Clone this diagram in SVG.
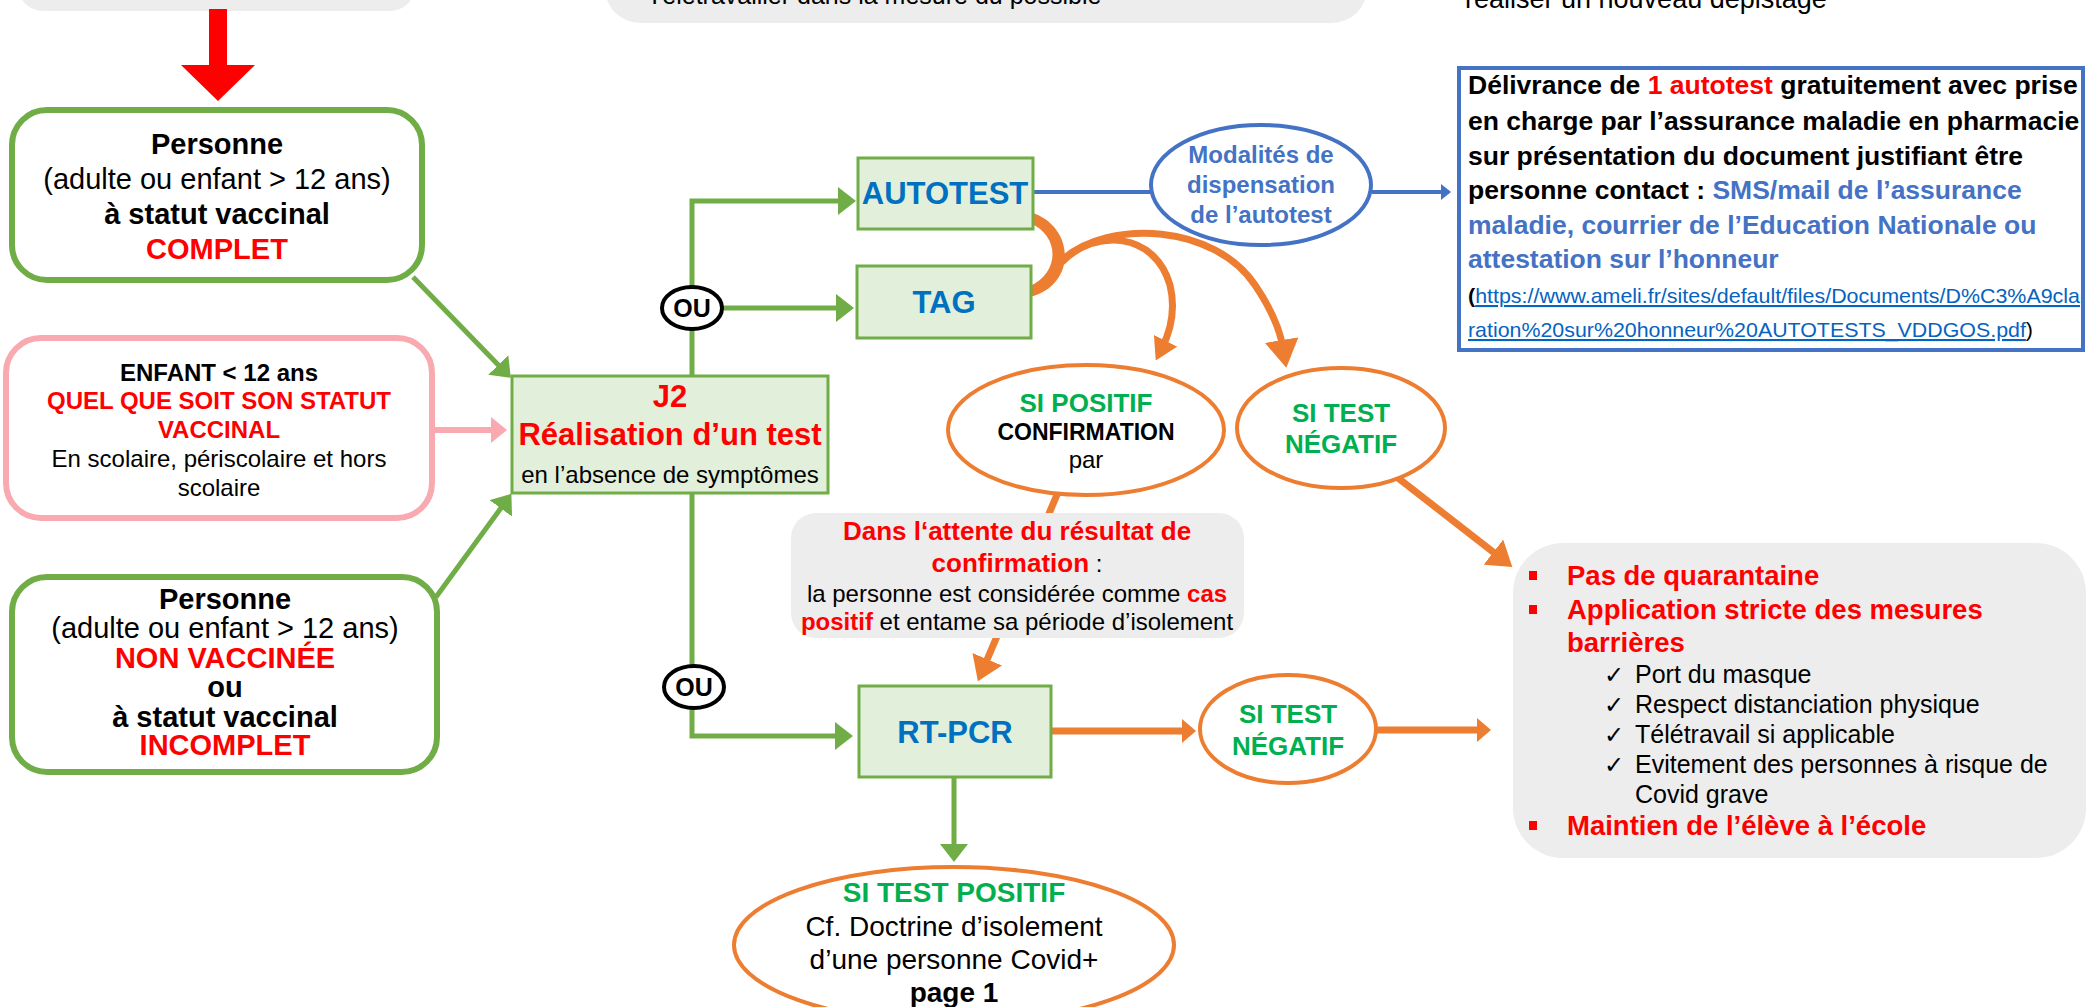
<svg xmlns="http://www.w3.org/2000/svg" width="2086" height="1007" viewBox="0 0 2086 1007">
<style>
text{font-family:"Liberation Sans",Arial,sans-serif;fill:#000}
.b{font-weight:bold}
.red{fill:#FF0000}
.grn{fill:#00B050}
.blu{fill:#0070C0}
.lb{fill:#4472C4}
.c{text-anchor:middle}
.ck{font-family:"DejaVu Sans",sans-serif;font-size:24px}
.gbox{fill:#E2EFDA;stroke:#70AD47;stroke-width:3}
.rbox{fill:#fff;stroke:#70AD47;stroke-width:6}
.oel{fill:#fff;stroke:#ED7D31;stroke-width:4}
.ou{fill:#fff;stroke:#000;stroke-width:4}
.grey{fill:#EDEDED}
.gl{fill:none;stroke:#70AD47;stroke-width:5}
.ol{fill:none;stroke:#ED7D31;stroke-width:7}
.bl{fill:none;stroke:#4472C4;stroke-width:4}
.lnk{fill:#0563C1;text-decoration:underline}
</style>
<defs>
<marker id="mG" markerUnits="userSpaceOnUse" markerWidth="18" markerHeight="28" refX="14" refY="14" orient="auto"><path d="M0,0 L18,14 L0,28 Z" fill="#70AD47"/></marker>
<marker id="mP" markerUnits="userSpaceOnUse" markerWidth="16" markerHeight="26" refX="12" refY="13" orient="auto"><path d="M0,0 L16,13 L0,26 Z" fill="#F9A9B0"/></marker>
<marker id="mOs" markerUnits="userSpaceOnUse" markerWidth="14" markerHeight="24" refX="10" refY="12" orient="auto"><path d="M0,0 L14,12 L0,24 Z" fill="#ED7D31"/></marker>
<marker id="mOb" markerUnits="userSpaceOnUse" markerWidth="24" markerHeight="32" refX="16" refY="16" orient="auto"><path d="M0,0 L24,16 L0,32 Z" fill="#ED7D31"/></marker>
<marker id="mO1" markerUnits="userSpaceOnUse" markerWidth="22" markerHeight="26" refX="8" refY="13" orient="auto"><path d="M0,0 L22,13 L0,26 Z" fill="#ED7D31"/></marker>
<marker id="mO2" markerUnits="userSpaceOnUse" markerWidth="28" markerHeight="34" refX="8" refY="17" orient="auto"><path d="M0,0 L28,17 L0,34 Z" fill="#ED7D31"/></marker>
<marker id="mB" markerUnits="userSpaceOnUse" markerWidth="10" markerHeight="16" refX="8" refY="8" orient="auto"><path d="M0,0 L10,8 L0,16 Z" fill="#4472C4"/></marker>
</defs>
<rect width="2086" height="1007" fill="#fff"/>

<!-- partially visible top elements -->
<g id="top-left-box"><rect class="grey" x="18" y="-60" width="397" height="71" rx="25"/></g>
<g id="top-mid-box"><rect class="grey" x="605" y="-80" width="762" height="103" rx="35"/>
<text x="647" y="4" font-size="25">Télétravailler dans la mesure du possible</text></g>
<g id="top-right-text"><text x="1465" y="8" font-size="27">réaliser un nouveau dépistage</text></g>

<g id="connectors">
<path d="M209,9 L227,9 L227,65 L255,65 L218,101 L181,65 L209,65 Z" fill="#FF0000"/>
<path class="gl" d="M413,277 L508,375" marker-end="url(#mG)"/>
<path d="M432,430 L503,430" fill="none" stroke="#F9A9B0" stroke-width="6" marker-end="url(#mP)"/>
<path class="gl" d="M436,597 L509,497" marker-end="url(#mG)"/>
<path class="gl" d="M692,376 V201 H852" marker-end="url(#mG)"/>
<path class="gl" d="M722,308 H850" marker-end="url(#mG)"/>
<path class="gl" d="M692,493 V736 H849" marker-end="url(#mG)"/>
<path class="gl" d="M954,777 V858" marker-end="url(#mG)"/>
<path class="ol" d="M1051,731 H1192" marker-end="url(#mOs)"/>
<path class="ol" d="M1376,730 H1487" marker-end="url(#mOs)"/>
<path class="ol" d="M1398,478 L1506,562" marker-end="url(#mOb)"/>
<path class="ol" stroke-width="9" d="M1059,490 L981,674" marker-end="url(#mOb)"/>
<path d="M1030,212 C1075,225 1078,285 1030,297 L1030,286 C1060,272 1060,236 1030,223 Z" fill="#ED7D31"/>
<path class="ol" stroke-width="4" d="M1062,262 C1095,228 1155,232 1170,285 C1176,310 1170,332 1162,348" marker-end="url(#mO1)"/>
<path class="ol" stroke-width="4.5" d="M1062,260 C1110,218 1215,225 1255,285 C1272,310 1280,330 1283,348" marker-end="url(#mO2)"/>
<path class="bl" d="M1033,192 H1151"/>
<path class="bl" d="M1372,192 H1449" marker-end="url(#mB)"/>
</g>

<g id="node-complet">
<rect class="rbox" x="12" y="110" width="410" height="170" rx="35"/>
<text class="c b" x="217" y="154" font-size="29">Personne</text>
<text class="c" x="217" y="189" font-size="29">(adulte ou enfant &gt; 12 ans)</text>
<text class="c b" x="217" y="224" font-size="29">à statut vaccinal</text>
<text class="c b red" x="217" y="259" font-size="29">COMPLET</text>
</g>

<g id="node-enfant">
<rect x="6" y="338" width="426" height="180" rx="35" fill="#fff" stroke="#F9A9B0" stroke-width="6"/>
<text class="c b" x="219" y="381" font-size="24">ENFANT &lt; 12 ans</text>
<text class="c b red" x="219" y="409" font-size="24">QUEL QUE SOIT SON STATUT</text>
<text class="c b red" x="219" y="438" font-size="24">VACCINAL</text>
<text class="c" x="219" y="467" font-size="24">En scolaire, périscolaire et hors</text>
<text class="c" x="219" y="496" font-size="24">scolaire</text>
</g>

<g id="node-nonvaccinee">
<rect class="rbox" x="12" y="577" width="425" height="195" rx="35"/>
<text class="c b" x="225" y="609" font-size="29">Personne</text>
<text class="c" x="225" y="638" font-size="29">(adulte ou enfant &gt; 12 ans)</text>
<text class="c b red" x="225" y="668" font-size="29">NON VACCINÉE</text>
<text class="c b" x="225" y="697" font-size="29">ou</text>
<text class="c b" x="225" y="727" font-size="29">à statut vaccinal</text>
<text class="c b red" x="225" y="755" font-size="29">INCOMPLET</text>
</g>

<g id="node-j2">
<rect class="gbox" x="512" y="376" width="316" height="117"/>
<text class="c b red" x="670" y="407" font-size="31">J2</text>
<text class="c b red" x="670" y="445" font-size="31">Réalisation d’un test</text>
<text class="c" x="670" y="483" font-size="24">en l’absence de symptômes</text>
</g>

<g id="node-ou1"><ellipse class="ou" cx="692" cy="308" rx="30" ry="21"/><text class="c b" x="692" y="317" font-size="25">OU</text></g>
<g id="node-ou2"><ellipse class="ou" cx="694" cy="687" rx="30" ry="21"/><text class="c b" x="694" y="696" font-size="25">OU</text></g>

<g id="node-autotest"><rect class="gbox" x="858" y="158" width="175" height="71"/><text class="c b blu" x="945" y="204" font-size="31">AUTOTEST</text></g>
<g id="node-tag"><rect class="gbox" x="857" y="266" width="174" height="72"/><text class="c b blu" x="944" y="313" font-size="31">TAG</text></g>
<g id="node-rtpcr"><rect class="gbox" x="859" y="686" width="192" height="91"/><text class="c b blu" x="955" y="743" font-size="31">RT-PCR</text></g>

<g id="node-modalites">
<ellipse cx="1261" cy="185" rx="110" ry="60" fill="#fff" stroke="#4472C4" stroke-width="4"/>
<text class="c b lb" x="1261" y="163" font-size="24">Modalités de</text>
<text class="c b lb" x="1261" y="193" font-size="24">dispensation</text>
<text class="c b lb" x="1261" y="223" font-size="24">de l’autotest</text>
</g>

<g id="node-delivrance">
<rect x="1459" y="68" width="624" height="282" fill="#fff" stroke="#4472C4" stroke-width="4"/>
<text class="b" x="1468" y="94" font-size="26.5">Délivrance de <tspan class="red">1 autotest</tspan> gratuitement avec prise</text>
<text class="b" x="1468" y="130" font-size="26.5">en charge par l’assurance maladie en pharmacie</text>
<text class="b" x="1468" y="165" font-size="26.5">sur présentation du document justifiant être</text>
<text class="b" x="1468" y="199" font-size="26.5">personne contact : <tspan class="lb">SMS/mail de l’assurance</tspan></text>
<text class="b lb" x="1468" y="234" font-size="26.5">maladie, courrier de l’Education Nationale ou</text>
<text class="b lb" x="1468" y="268" font-size="26.5">attestation sur l’honneur</text>
<text x="1468" y="303" font-size="21" textLength="612" lengthAdjust="spacingAndGlyphs"><tspan class="b">(</tspan><tspan class="lnk">https://www.ameli.fr/sites/default/files/Documents/D%C3%A9cla</tspan></text>
<text x="1468" y="337" font-size="21" textLength="565" lengthAdjust="spacingAndGlyphs"><tspan class="lnk">ration%20sur%20honneur%20AUTOTESTS_VDDGOS.pdf</tspan>)</text>
</g>

<g id="node-sipositif">
<ellipse class="oel" cx="1086" cy="430" rx="138" ry="65"/>
<text class="c b grn" x="1086" y="412" font-size="26">SI POSITIF</text>
<text class="c b" x="1086" y="440" font-size="23">CONFIRMATION</text>
<text class="c" x="1086" y="468" font-size="24">par</text>
</g>

<g id="node-negatif1">
<ellipse class="oel" cx="1341" cy="428" rx="104" ry="60"/>
<text class="c b grn" x="1341" y="422" font-size="26">SI TEST</text>
<text class="c b grn" x="1341" y="453" font-size="26">NÉGATIF</text>
</g>

<g id="node-attente">
<rect class="grey" x="791" y="513" width="453" height="125" rx="25"/>
<text class="c b red" x="1017" y="540" font-size="26">Dans l‘attente du résultat de</text>
<text class="c" x="1017" y="572" font-size="24"><tspan class="b red" font-size="26">confirmation</tspan> :</text>
<text class="c" x="1017" y="602" font-size="24">la personne est considérée comme <tspan class="b red">cas</tspan></text>
<text class="c" x="1017" y="630" font-size="24"><tspan class="b red">positif</tspan> et entame sa période d’isolement</text>
</g>

<g id="node-negatif2">
<ellipse class="oel" cx="1288" cy="729" rx="88" ry="54"/>
<text class="c b grn" x="1288" y="723" font-size="26">SI TEST</text>
<text class="c b grn" x="1288" y="755" font-size="26">NÉGATIF</text>
</g>

<g id="node-testpositif">
<ellipse class="oel" cx="954" cy="945" rx="220" ry="78"/>
<text class="c b grn" x="954" y="902" font-size="28">SI TEST POSITIF</text>
<text class="c" x="954" y="936" font-size="28">Cf. Doctrine d’isolement</text>
<text class="c" x="954" y="969" font-size="28">d’une personne Covid+</text>
<text class="c b" x="954" y="1002" font-size="28">page 1</text>
</g>

<g id="node-mesures">
<rect class="grey" x="1513" y="543" width="573" height="315" rx="50"/>
<rect x="1529" y="571" width="8" height="9" fill="#FF0000"/>
<rect x="1529" y="605" width="8" height="9" fill="#FF0000"/>
<rect x="1529" y="821" width="8" height="9" fill="#FF0000"/>
<text class="b red" x="1567" y="585" font-size="27.5">Pas de quarantaine</text>
<text class="b red" x="1567" y="619" font-size="27.5">Application stricte des mesures</text>
<text class="b red" x="1567" y="652" font-size="27.5">barrières</text>
<text class="ck" x="1604" y="683">✓</text>
<text class="ck" x="1604" y="713">✓</text>
<text class="ck" x="1604" y="743">✓</text>
<text class="ck" x="1604" y="773">✓</text>
<text x="1635" y="683" font-size="25">Port du masque</text>
<text x="1635" y="713" font-size="25">Respect distanciation physique</text>
<text x="1635" y="743" font-size="25">Télétravail si applicable</text>
<text x="1635" y="773" font-size="25">Evitement des personnes à risque de</text>
<text x="1635" y="803" font-size="25">Covid grave</text>
<text class="b red" x="1567" y="835" font-size="27.5">Maintien de l’élève à l’école</text>
</g>
</svg>
